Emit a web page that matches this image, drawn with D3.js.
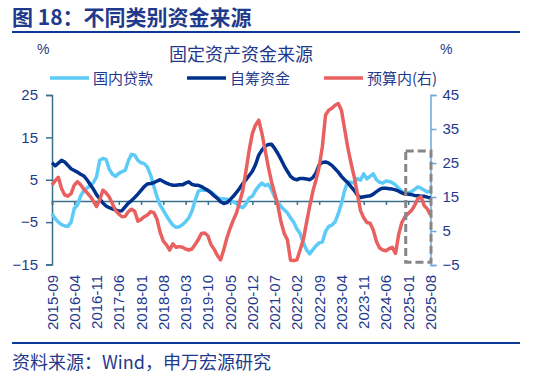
<!DOCTYPE html>
<html><head><meta charset="utf-8">
<script src="https://cdn.jsdelivr.net/npm/d3@7"></script>
<style>
html,body{margin:0;padding:0;background:#fff;}
svg{display:block;font-family:"Liberation Sans","Noto Sans CJK SC",sans-serif;}
</style></head>
<body>
<script>
// ---- data ----
const startMonth = "2015-09";
const nMonths = 120;
const tickLabels = ["2015-09","2016-04","2016-11","2017-06","2018-01","2018-08","2019-03","2019-10","2020-05","2020-12","2021-07","2022-02","2022-09","2023-04","2023-11","2024-06","2025-01","2025-08"];
const leftTicks = [25,15,5,-5,-15];
const rightTicks = [45,35,25,15,5,-5];
const seriesNames = ["国内贷款","自筹资金","预算内(右)"];
const domesticLoans = [-3.0,-4.2,-5.0,-5.6,-5.9,-6.0,-5.0,-1.8,-1.0,1.2,2.4,3.0,3.6,4.3,5.7,9.6,10.0,9.8,7.5,6.3,5.8,6.5,6.9,7.2,9.5,11.0,10.8,9.6,9.0,8.8,8.0,6.1,3.5,1.0,-1.0,-2.2,-3.5,-4.7,-5.7,-6.2,-6.1,-5.6,-4.9,-4.0,-2.4,0.1,2.3,2.6,2.5,2.5,2.1,1.5,0.8,0.5,0.5,0.4,0.1,-0.2,-0.6,-1.3,-1.6,-0.7,0.7,1.1,2.5,3.5,4.2,3.6,3.9,2.7,0.9,-0.2,-1.3,-2.1,-2.8,-4.0,-5.0,-6.6,-7.7,-9.8,-11.5,-12.5,-11.5,-10.6,-9.9,-9.7,-7.2,-6.0,-5.7,-5.0,-3.0,-0.6,2.5,4.5,4.4,4.2,5.3,4.9,6.4,5.2,5.8,6.4,5.0,4.4,4.2,4.7,4.6,4.3,3.8,3.0,2.3,1.7,1.9,2.2,2.7,3.3,3.0,2.6,2.1,2.4];
const selfRaised = [9.0,8.3,8.9,9.6,9.2,8.4,7.6,7.2,6.8,6.3,5.9,5.0,3.9,2.8,1.5,0.5,-0.5,-1.2,-1.6,-1.9,-2.1,-2.4,-2.3,-1.4,-0.5,0.1,0.8,1.6,2.5,3.4,4.0,4.1,4.3,4.7,5.0,4.6,4.2,3.9,3.7,3.7,3.8,3.8,4.2,4.5,3.9,3.7,3.7,3.4,2.9,2.5,1.9,1.2,0.6,-0.2,-0.6,-0.4,0.3,1.1,2.0,3.0,4.1,5.0,6.0,7.0,8.6,10.8,12.0,12.9,13.3,13.4,12.4,11.2,9.8,8.3,7.0,5.8,5.2,5.0,5.3,5.3,5.2,5.0,5.5,6.6,8.5,9.1,9.2,8.9,8.4,7.6,6.8,5.8,5.0,4.3,3.4,2.5,1.4,0.8,1.0,1.1,1.2,1.6,2.2,2.7,3.0,3.0,2.9,2.8,2.6,2.3,1.9,1.6,1.6,1.5,1.3,1.2,1.1,1.1,0.9,0.7];
const budget = [18.5,19.8,20.8,17.5,15.6,15.3,16.0,18.5,19.5,18.6,17.3,16.3,15.2,13.8,12.2,14.1,17.0,16.2,15.0,13.0,11.0,10.0,9.2,9.3,10.7,11.4,10.8,7.9,8.4,9.2,9.7,10.7,10.4,8.5,4.6,2.0,0.9,-0.6,1.2,0.2,0.4,0.2,-0.3,-0.6,-0.3,1.0,2.5,4.3,4.4,3.6,1.0,-0.4,-2.2,-3.5,-0.5,3.0,5.8,8.2,10.3,13.5,17.0,22.8,28.8,33.7,36.2,37.6,33.7,28.8,23.9,19.5,16.1,12.6,7.7,4.3,2.4,-3.6,-3.7,-3.5,-0.6,2.4,7.3,12.2,16.6,20.0,23.9,29.8,39.1,40.5,41.1,42.0,42.5,40.5,35.0,29.5,25.0,21.0,16.0,11.0,8.9,7.5,7.3,5.3,1.9,0.0,-0.6,-0.8,-0.2,0.2,-1.6,4.0,7.5,9.2,10.2,11.0,12.5,14.5,15.1,12.5,11.5,9.7];
// highlighted window (2025-01 .. 2025-08) on the right axis
const boxStart = "2025-01", boxEnd = "2025-08";
const boxRight = [28.5, -4.2];

// ---- layout ----
const W = 540, H = 378;
const navy = "#1F3A8C";
const colors = ["#5DCBF7", "#00318C", "#E8605F"];
const fmt = d3.timeFormat("%Y-%m"), parse = d3.timeParse("%Y-%m");
const months = d3.range(nMonths).map(i => fmt(d3.timeMonth.offset(parse(startMonth), i)));

const svg = d3.select("body").append("svg").attr("width", W).attr("height", H);

const x = d3.scalePoint().domain(months).range([52, 430.5]);
const yL = d3.scaleLinear().domain([-15, 25]).range([264.5, 95]);
const yR = d3.scaleLinear().domain([-5, 45]).range([265, 95]);

// title
svg.append("text").attr("x", 12).attr("y", 25).attr("font-size", 21).attr("font-weight", "bold")
  .attr("fill", navy).attr("font-family", "'Noto Sans CJK SC','Liberation Sans',sans-serif")
  .text("图 18：不同类别资金来源");
svg.append("line").attr("x1", 12).attr("x2", 520).attr("y1", 32).attr("y2", 32)
  .attr("stroke", "#0B3A97").attr("stroke-width", 2);
svg.append("line").attr("x1", 12).attr("x2", 520).attr("y1", 343).attr("y2", 343)
  .attr("stroke", "#0B3A97").attr("stroke-width", 2);
svg.append("text").attr("x", 12).attr("y", 369).attr("font-size", 18).attr("fill", navy)
  .attr("font-family", "'Noto Sans CJK SC','Liberation Sans',sans-serif")
  .text("资料来源：Wind，申万宏源研究");

// units
svg.append("text").attr("x", 37).attr("y", 54).attr("font-size", 14).attr("fill", navy).text("%");
svg.append("text").attr("x", 440).attr("y", 54).attr("font-size", 14).attr("fill", navy).text("%");
// chart subtitle
svg.append("text").attr("x", 241).attr("y", 61).attr("text-anchor", "middle").attr("font-size", 18)
  .attr("fill", navy).attr("font-family", "'Noto Sans CJK SC',sans-serif").text("固定资产资金来源");

// legend
const legX = [50, 187, 324];
seriesNames.forEach((n, k) => {
  const g = svg.append("g").attr("transform", `translate(${legX[k]},78)`);
  g.append("line").attr("x1", 0).attr("x2", 39).attr("stroke", colors[k]).attr("stroke-width", 3.5);
  g.append("text").attr("x", 43).attr("y", 5.5).attr("font-size", 15).attr("fill", navy)
    .attr("font-family", "'Noto Sans CJK SC',sans-serif").text(n);
});

// axes
const axL = svg.append("g").attr("transform", "translate(52,0)")
  .call(d3.axisLeft(yL).tickValues(leftTicks).tickSize(6).tickPadding(8).tickFormat(d3.format("d")));
axL.select(".domain").attr("stroke", "#3A6F8C").attr("stroke-width", 1.5);
axL.selectAll(".tick line").attr("stroke", "#3A6F8C").attr("stroke-width", 1.5);
axL.selectAll("text").attr("font-size", 15).attr("fill", navy).attr("font-family", "'Liberation Sans',sans-serif");

const axR = svg.append("g").attr("transform", "translate(430.5,0)")
  .call(d3.axisRight(yR).tickValues(rightTicks).tickSize(6).tickPadding(6).tickFormat(d3.format("d")));
axR.select(".domain").attr("stroke", "#6FA6DC").attr("stroke-width", 1.5);
axR.selectAll(".tick line").attr("stroke", "#6FA6DC").attr("stroke-width", 1.5);
axR.selectAll("text").attr("font-size", 15).attr("fill", navy).attr("font-family", "'Liberation Sans',sans-serif");

const axX = svg.append("g").attr("transform", `translate(0,${yL(0)})`)
  .call(d3.axisBottom(x).tickValues(tickLabels).tickSize(4).tickFormat(() => ""));
axX.select(".domain").attr("stroke", "#3A6F8C").attr("stroke-width", 1.5);
axX.selectAll(".tick line").attr("stroke", "#3A6F8C").attr("stroke-width", 1.5);

// rotated month labels at the bottom
svg.append("g").selectAll("text").data(tickLabels).join("text")
  .attr("transform", d => `translate(${x(d) + 5.5},275) rotate(-90)`)
  .attr("text-anchor", "end").attr("font-size", 15).attr("fill", navy)
  .attr("font-family", "'Liberation Sans',sans-serif").text(d => d);

// lines
const lineL = d3.line().x((d, i) => x(months[i])).y(d => yL(d));
const lineR = d3.line().x((d, i) => x(months[i])).y(d => yR(d));
svg.append("path").datum(domesticLoans).attr("d", lineL).attr("fill", "none")
  .attr("stroke", colors[0]).attr("stroke-width", 3.5).attr("stroke-linejoin", "round");
svg.append("path").datum(selfRaised).attr("d", lineL).attr("fill", "none")
  .attr("stroke", colors[1]).attr("stroke-width", 3.5).attr("stroke-linejoin", "round");
svg.append("path").datum(budget).attr("d", lineR).attr("fill", "none")
  .attr("stroke", colors[2]).attr("stroke-width", 3.5).attr("stroke-linejoin", "round");

// dashed highlight box
const bx0 = x(boxStart) - 2.5, bx1 = x(boxEnd) + 0.5;
svg.append("rect").attr("x", bx0).attr("y", yR(boxRight[0])).attr("width", bx1 - bx0)
  .attr("height", yR(boxRight[1]) - yR(boxRight[0]))
  .attr("fill", "none").attr("stroke", "#868686").attr("stroke-width", 3).attr("stroke-dasharray", "8,4");
</script>
</body></html>
